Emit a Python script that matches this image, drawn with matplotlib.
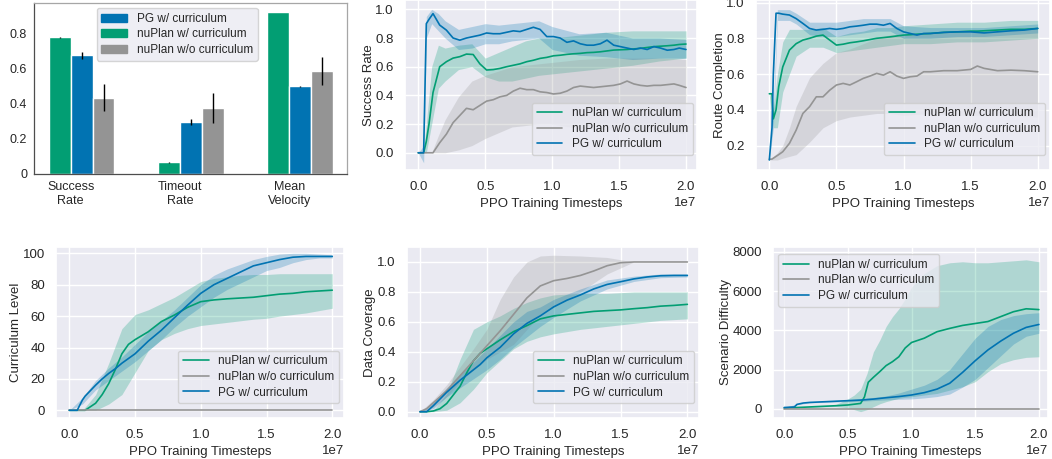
import numpy as np
import matplotlib
matplotlib.use('Agg')
import matplotlib.pyplot as plt
import seaborn as sns
from matplotlib.patches import Patch

# ---------------- data (timesteps in units of 1e7) ----------------
GREEN, BLUE, GRAY = '#029e73', '#0173b2', '#949494'
series_labels = ['nuPlan w/ curriculum', 'nuPlan w/o curriculum', 'PG w/ curriculum']

# bar chart
bar_groups = ['Success\nRate', 'Timeout\nRate', 'Mean\nVelocity']
bar_nuplan_cur = [0.78, 0.066, 0.924]
bar_nuplan_cur_err = [0.002, 0.002, 0.002]
bar_pg_cur = [0.677, 0.296, 0.499]
bar_pg_cur_err = [0.019, 0.019, 0.004]
bar_nuplan_nocur = [0.436, 0.376, 0.586]
bar_nuplan_nocur_err = [0.079, 0.086, 0.081]

# success rate
sr_t = [0, 0.04, 0.06, 0.08, 0.11, 0.16, 0.21, 0.26, 0.31, 0.36, 0.41, 0.46, 0.51, 0.56,
        0.61, 0.66, 0.71, 0.76, 0.81, 0.86, 0.91, 0.96, 1.01, 1.06, 1.11, 1.16, 1.21,
        1.26, 1.31, 1.36, 1.41, 1.46, 1.51, 1.56, 1.61, 1.66, 1.71, 1.76, 1.81, 1.86,
        1.91, 1.95, 2.0]
sr_green = [0, 0, 0.08, 0.2, 0.42, 0.6, 0.635, 0.66, 0.67, 0.688, 0.685, 0.62, 0.577, 0.58,
            0.588, 0.6, 0.61, 0.62, 0.635, 0.645, 0.658, 0.665, 0.676, 0.68, 0.686, 0.69,
            0.693, 0.698, 0.7, 0.704, 0.71, 0.716, 0.718, 0.72, 0.724, 0.728, 0.734, 0.74,
            0.743, 0.746, 0.75, 0.755, 0.758]
sr_gray = [0, 0, 0, 0, 0, 0.07, 0.13, 0.21, 0.26, 0.31, 0.3, 0.33, 0.36, 0.37, 0.39, 0.4,
           0.43, 0.45, 0.44, 0.44, 0.425, 0.42, 0.41, 0.415, 0.43, 0.455, 0.465, 0.46, 0.455,
           0.46, 0.465, 0.47, 0.48, 0.5, 0.48, 0.47, 0.465, 0.47, 0.47, 0.475, 0.48, 0.47, 0.455]
sr_blue = [0, 0, 0.9, 0.93, 0.97, 0.89, 0.855, 0.8, 0.785, 0.8, 0.81, 0.82, 0.835, 0.83,
           0.83, 0.84, 0.85, 0.845, 0.86, 0.875, 0.86, 0.81, 0.81, 0.8, 0.77, 0.78, 0.76,
           0.75, 0.75, 0.76, 0.785, 0.75, 0.74, 0.73, 0.72, 0.73, 0.72, 0.74, 0.73, 0.715,
           0.72, 0.73, 0.72]
sr_bt = [0, 0.04, 0.06, 0.1, 0.15, 0.2, 0.3, 0.4, 0.5, 0.6, 0.7, 0.8, 0.9, 1.0, 1.2, 1.4,
         1.6, 1.8, 2.0]
sr_green_lo = [0, 0, 0, 0.2, 0.45, 0.5, 0.58, 0.6, 0.53, 0.5, 0.5, 0.52, 0.54, 0.55, 0.57,
               0.59, 0.61, 0.64, 0.66]
sr_green_hi = [0, 0, 0.2, 0.6, 0.75, 0.73, 0.75, 0.76, 0.66, 0.7, 0.74, 0.78, 0.8, 0.8, 0.82,
               0.84, 0.85, 0.85, 0.85]
sr_gray_lo = [0, 0, 0, 0, 0, 0, 0.02, 0.05, 0.1, 0.14, 0.18, 0.19, 0.2, 0.2, 0.17, 0.16,
              0.15, 0.14, 0.14]
sr_gray_hi = [0, 0, 0, 0, 0.12, 0.23, 0.39, 0.5, 0.54, 0.57, 0.6, 0.61, 0.62, 0.63, 0.65,
              0.66, 0.66, 0.66, 0.65]
sr_blue_lo = [0, -0.07, 0.8, 0.9, 0.85, 0.8, 0.72, 0.73, 0.76, 0.76, 0.78, 0.79, 0.8, 0.72,
              0.68, 0.67, 0.65, 0.66, 0.66]
sr_blue_hi = [0, 0.05, 0.95, 1.0, 0.97, 0.92, 0.86, 0.88, 0.9, 0.89, 0.9, 0.91, 0.92, 0.88,
              0.83, 0.84, 0.8, 0.8, 0.79]

# route completion
rc_t = [0, 0.02, 0.03, 0.05, 0.07, 0.1, 0.15, 0.2, 0.25, 0.3, 0.35, 0.4, 0.45, 0.5, 0.55,
        0.6, 0.65, 0.7, 0.75, 0.8, 0.85, 0.9, 0.95, 1.0, 1.05, 1.1, 1.15, 1.2, 1.3, 1.4,
        1.5, 1.55, 1.6, 1.7, 1.8, 1.9, 2.0]
rc_green = [0.49, 0.49, 0.35, 0.4, 0.53, 0.64, 0.734, 0.77, 0.79, 0.8, 0.812, 0.818, 0.79,
            0.762, 0.767, 0.775, 0.78, 0.786, 0.793, 0.8, 0.804, 0.808, 0.813, 0.818, 0.82,
            0.823, 0.825, 0.827, 0.833, 0.836, 0.84, 0.84, 0.842, 0.846, 0.85, 0.85, 0.855]
rc_gray = [0.124, 0.125, 0.13, 0.14, 0.15, 0.166, 0.213, 0.287, 0.38, 0.418, 0.473, 0.473,
           0.51, 0.539, 0.548, 0.539, 0.557, 0.576, 0.589, 0.604, 0.594, 0.613, 0.589, 0.576,
           0.585, 0.589, 0.613, 0.613, 0.619, 0.619, 0.626, 0.645, 0.632, 0.619, 0.622,
           0.619, 0.613]
rc_blue = [0.12, 0.3, 0.6, 0.94, 0.94, 0.935, 0.93, 0.91, 0.883, 0.855, 0.846, 0.85, 0.855,
           0.85, 0.855, 0.864, 0.868, 0.873, 0.879, 0.879, 0.873, 0.883, 0.855, 0.836, 0.827,
           0.818, 0.827, 0.827, 0.833, 0.836, 0.836, 0.833, 0.83, 0.836, 0.842, 0.846, 0.855]
rc_bt = [0, 0.03, 0.06, 0.1, 0.15, 0.2, 0.3, 0.4, 0.5, 0.6, 0.7, 0.8, 0.9, 1.0, 1.2, 1.4,
         1.6, 1.8, 2.0]
rc_green_lo = [0.48, 0.3, 0.3, 0.5, 0.6, 0.7, 0.75, 0.75, 0.72, 0.73, 0.74, 0.75, 0.76,
               0.77, 0.77, 0.78, 0.78, 0.79, 0.8]
rc_green_hi = [0.5, 0.4, 0.6, 0.78, 0.85, 0.85, 0.85, 0.86, 0.81, 0.83, 0.84, 0.86, 0.86,
               0.87, 0.88, 0.89, 0.89, 0.9, 0.9]
rc_gray_lo = [0.12, 0.12, 0.12, 0.13, 0.14, 0.15, 0.22, 0.3, 0.34, 0.36, 0.37, 0.38, 0.38,
              0.37, 0.38, 0.37, 0.37, 0.37, 0.36]
rc_gray_hi = [0.12, 0.14, 0.16, 0.2, 0.3, 0.42, 0.58, 0.66, 0.72, 0.74, 0.77, 0.8, 0.82,
              0.82, 0.83, 0.84, 0.84, 0.85, 0.85]
rc_blue_lo = [0.12, 0.3, 0.9, 0.9, 0.9, 0.88, 0.82, 0.81, 0.81, 0.82, 0.83, 0.84, 0.84,
              0.8, 0.8, 0.81, 0.81, 0.82, 0.83]
rc_blue_hi = [0.12, 0.4, 0.96, 0.96, 0.96, 0.94, 0.89, 0.89, 0.89, 0.9, 0.91, 0.91, 0.91,
              0.87, 0.86, 0.86, 0.86, 0.87, 0.88]

# curriculum level
cl_t = [0, 0.06, 0.1, 0.12, 0.2, 0.25, 0.3, 0.35, 0.4, 0.45, 0.5, 0.6, 0.7, 0.8, 0.9, 1.0,
        1.1, 1.2, 1.3, 1.4, 1.5, 1.6, 1.7, 1.8, 1.9, 2.0]
cl_green = [0, 0, 0, 0, 4.5, 10, 17, 26, 36, 42, 45, 50, 56.5, 60.7, 65.6, 69.2, 70.3, 71,
            71.5, 72, 73, 74, 74.5, 75.5, 76, 76.5]
cl_gray = [0] * len(cl_t)
cl_blue = [0, 0, 6.6, 9, 16, 20, 23.5, 26.5, 30, 33, 36, 44, 51, 59, 67, 74.5, 80, 84, 88,
           92, 94, 96, 97.5, 98, 98, 98]
cl_bt = [0, 0.1, 0.2, 0.3, 0.4, 0.5, 0.6, 0.7, 0.8, 0.9, 1.0, 1.1, 1.2, 1.3, 1.4, 1.5, 1.6,
         1.7, 1.8, 1.9, 2.0]
cl_green_lo = [0, 0, 0, 4, 10, 24, 38, 45, 49, 52, 54, 55, 56, 57, 58, 58.6, 60, 61, 62,
               63.5, 65]
cl_green_hi = [0, 0, 10, 30, 52, 61, 64, 68, 72, 77, 82, 84, 85, 86, 86.5, 86.5, 87, 87, 87,
               87, 87]
cl_gray_lo = [0] * len(cl_bt)
cl_gray_hi = [0] * len(cl_bt)
cl_blue_lo = [0, 4, 13, 19, 25, 31, 38, 45, 53, 60, 66, 72, 77, 81, 85, 89, 91, 94, 96, 97, 97]
cl_blue_hi = [0, 8, 19, 27, 34, 42, 50, 57, 64, 72, 80, 86, 90, 93, 96, 98, 99.5, 100, 100,
              99.5, 99]

# data coverage
dc_t = [0, 0.05, 0.1, 0.15, 0.2, 0.3, 0.35, 0.4, 0.45, 0.5, 0.6, 0.7, 0.8, 0.9, 1.0, 1.1,
        1.2, 1.3, 1.4, 1.5, 1.6, 1.7, 1.8, 1.9, 2.0]
dc_green = [0, 0, 0.005, 0.02, 0.055, 0.17, 0.26, 0.34, 0.39, 0.42, 0.48, 0.535, 0.575,
            0.62, 0.64, 0.65, 0.66, 0.67, 0.675, 0.68, 0.688, 0.695, 0.705, 0.71, 0.717]
dc_gray = [0, 0.02, 0.06, 0.1, 0.14, 0.24, 0.29, 0.34, 0.39, 0.44, 0.54, 0.65, 0.76, 0.84,
           0.875, 0.89, 0.91, 0.94, 0.975, 0.995, 1.0, 1.0, 1.0, 1.0, 1.0]
dc_blue = [0, 0, 0.04, 0.085, 0.13, 0.21, 0.245, 0.28, 0.315, 0.36, 0.43, 0.52, 0.59, 0.64,
           0.7, 0.745, 0.78, 0.82, 0.85, 0.868, 0.887, 0.9, 0.908, 0.91, 0.91]
dc_bt = [0, 0.1, 0.2, 0.3, 0.4, 0.5, 0.6, 0.7, 0.8, 0.9, 1.0, 1.2, 1.4, 1.6, 1.8, 2.0]
dc_green_lo = [0, 0, 0.01, 0.06, 0.15, 0.26, 0.34, 0.42, 0.47, 0.5, 0.52, 0.55, 0.57, 0.59,
               0.61, 0.62]
dc_green_hi = [0, 0.01, 0.12, 0.35, 0.55, 0.6, 0.64, 0.69, 0.73, 0.76, 0.78, 0.79, 0.79,
               0.8, 0.8, 0.8]
dc_gray_lo = [0, 0.03, 0.1, 0.2, 0.28, 0.35, 0.4, 0.45, 0.55, 0.65, 0.7, 0.8, 0.92, 1.0,
              1.0, 1.0]
dc_gray_hi = [0, 0.08, 0.18, 0.3, 0.42, 0.55, 0.75, 0.9, 1.0, 1.04, 1.045, 1.04, 1.03, 1.0,
              1.0, 1.0]
dc_blue_lo = [0, 0.02, 0.1, 0.16, 0.22, 0.28, 0.35, 0.43, 0.5, 0.57, 0.63, 0.74, 0.82, 0.87,
              0.895, 0.9]
dc_blue_hi = [0, 0.06, 0.16, 0.25, 0.33, 0.42, 0.51, 0.6, 0.67, 0.7, 0.75, 0.82, 0.88, 0.905,
              0.92, 0.92]

# scenario difficulty
sd_t = [0, 0.08, 0.1, 0.15, 0.2, 0.3, 0.4, 0.5, 0.6, 0.63, 0.66, 0.7, 0.75, 0.8, 0.85, 0.9,
        0.95, 1.0, 1.1, 1.2, 1.3, 1.4, 1.5, 1.6, 1.7, 1.8, 1.9, 2.0]
sd_green = [40, 55, 60, 75, 90, 120, 150, 190, 270, 600, 1350, 1600, 1890, 2200, 2400, 2650,
            3100, 3380, 3600, 3930, 4100, 4250, 4350, 4450, 4700, 4950, 5100, 5060]
sd_gray = [0] * len(sd_t)
sd_blue = [60, 90, 220, 290, 320, 350, 380, 410, 440, 455, 470, 490, 525, 560, 590, 620, 660,
           700, 820, 1000, 1300, 1850, 2450, 3000, 3450, 3850, 4150, 4300]
sd_gt = [0, 0.2, 0.4, 0.5, 0.55, 0.6, 0.65, 0.7, 0.75, 0.8, 0.85, 0.9, 0.95, 1.0, 1.1, 1.2,
         1.3, 1.4, 1.5, 1.6, 1.7, 1.8, 1.9, 2.0]
sd_green_lo = [30, 70, 110, 50, -50, -150, -50, 100, 250, 360, 450, 530, 580, 610, 700, 780,
               950, 1120, 1380, 1890, 2300, 2500, 2620, 2650]
sd_green_hi = [50, 110, 200, 500, 700, 1000, 1800, 2900, 3500, 4200, 4700, 5100, 5600, 6200,
               6900, 7300, 7450, 7500, 7450, 7450, 7500, 7550, 7600, 7500]
sd_bt = [0, 0.1, 0.2, 0.4, 0.6, 0.8, 0.9, 1.0, 1.1, 1.2, 1.3, 1.4, 1.5, 1.6, 1.7, 1.8, 1.9,
         2.0]
sd_blue_lo = [60, 200, 300, 340, 380, 450, 480, 500, 550, 620, 750, 1100, 1500, 2100, 2700,
              3300, 3700, 3850]
sd_blue_hi = [60, 240, 350, 420, 500, 650, 800, 1000, 1200, 1500, 2000, 2800, 3600, 4200,
              4550, 4750, 4850, 4900]
sd_gray_lo = [0] * len(sd_bt)
sd_gray_hi = [0] * len(sd_bt)

# ---------------- style ----------------
sns.set_theme(style='darkgrid')
plt.rcParams['font.family'] = ['Liberation Sans', 'DejaVu Sans']
plt.rcParams['xtick.labelsize'] = 9.5
plt.rcParams['ytick.labelsize'] = 9.5
plt.rcParams['axes.labelsize'] = 9.5
plt.rcParams['legend.fontsize'] = 8.5
plt.rcParams['legend.handlelength'] = 2.2

W, H = 1052, 459
fig = plt.figure(figsize=(W / 100, H / 100), dpi=100)


def add_ax(left, top, right, bottom):
    return fig.add_axes([left / W, 1 - bottom / H, (right - left) / W, (bottom - top) / H])


def scale(a):
    return np.asarray(a, dtype=float) * 1e7


def line_panel(ax, curves, ylabel, xlim, ylim, leg_kw):
    for (tm, m, tb, lo, hi, color), lab in zip(curves, series_labels):
        ax.fill_between(scale(tb), lo, hi, color=color, alpha=0.25, lw=0)
        ax.plot(scale(tm), m, color=color, lw=1.2, label=lab)
    ax.set_xlim(xlim[0] * 1e7, xlim[1] * 1e7)
    ax.set_ylim(*ylim)
    ax.set_xticks(scale([0, 0.5, 1.0, 1.5, 2.0]))
    ax.set_xlabel('PPO Training Timesteps', labelpad=3.5)
    ax.set_ylabel(ylabel, labelpad=0.5)
    ax.tick_params(axis='x', length=0, pad=8)
    ax.tick_params(axis='y', length=0, pad=8)
    ax.legend(borderaxespad=0, labelspacing=0.3, **leg_kw)


# ---------------- bar chart ----------------
ax = add_ax(34, 3, 347, 174)
ax.set_facecolor('white')
ax.grid(False)
x = np.arange(len(bar_groups))
w = 0.2
ax.bar(x - w / 2, bar_nuplan_cur, w, yerr=bar_nuplan_cur_err, color=GREEN,
       error_kw=dict(lw=1.0, ecolor='black'))
ax.bar(x + w / 2, bar_pg_cur, w, yerr=bar_pg_cur_err, color=BLUE,
       error_kw=dict(lw=1.0, ecolor='black'))
ax.bar(x + 3 * w / 2, bar_nuplan_nocur, w, yerr=bar_nuplan_nocur_err, color=GRAY,
       error_kw=dict(lw=1.0, ecolor='black'))
ax.set_xlim(-0.336, 2.528)
ax.set_ylim(0, 0.975)
ax.set_xticks(x)
ax.set_xticklabels(bar_groups, fontsize=9)
ax.set_yticks([0, 0.2, 0.4, 0.6, 0.8])
ax.set_yticklabels(['0', '0.2', '0.4', '0.6', '0.8'], fontsize=9)
ax.tick_params(length=3, width=0.8, color='0.3', pad=2)
for side in ['left', 'bottom']:
    ax.spines[side].set_color('0.3')
for side in ['top', 'right']:
    ax.spines[side].set_color('0.65')
for s in ax.spines.values():
    s.set_linewidth(0.9)
handles = [Patch(color=BLUE), Patch(color=GREEN), Patch(color=GRAY)]
ax.legend(handles, ['PG w/ curriculum', 'nuPlan w/ curriculum', 'nuPlan w/o curriculum'],
          loc='upper left', bbox_to_anchor=(0.2, 0.97), borderaxespad=0,
          labelspacing=0.3, edgecolor='0.8')

# ---------------- line panels ----------------
ax = add_ax(404.9, 0, 696.7, 170)
line_panel(ax, [(sr_t, sr_green, sr_bt, sr_green_lo, sr_green_hi, GREEN),
                (sr_t, sr_gray, sr_bt, sr_gray_lo, sr_gray_hi, GRAY),
                (sr_t, sr_blue, sr_bt, sr_blue_lo, sr_blue_hi, BLUE)],
           'Success Rate', (-0.1, 2.08), (-0.12, 1.065),
           dict(loc='lower right', bbox_to_anchor=(0.987, 0.088)))

ax = add_ax(755.9, 0, 1049.8, 170)
line_panel(ax, [(rc_t, rc_green, rc_bt, rc_green_lo, rc_green_hi, GREEN),
                (rc_t, rc_gray, rc_bt, rc_gray_lo, rc_gray_hi, GRAY),
                (rc_t, rc_blue, rc_bt, rc_blue_lo, rc_blue_hi, BLUE)],
           'Route Completion', (-0.1, 2.09), (0.064, 1.014),
           dict(loc='lower right', bbox_to_anchor=(0.984, 0.088)))
ax.set_yticks([0.2, 0.4, 0.6, 0.8, 1.0])

ax = add_ax(56.15, 246.7, 344.1, 418)
line_panel(ax, [(cl_t, cl_green, cl_bt, cl_green_lo, cl_green_hi, GREEN),
                (cl_t, cl_gray, cl_bt, cl_gray_lo, cl_gray_hi, GRAY),
                (cl_t, cl_blue, cl_bt, cl_blue_lo, cl_blue_hi, BLUE)],
           'Curriculum Level', (-0.1, 2.09), (-4.9, 104.2),
           dict(loc='lower right', bbox_to_anchor=(0.983, 0.086)))

ax = add_ax(406.6, 246.7, 699.4, 418)
line_panel(ax, [(dc_t, dc_green, dc_bt, dc_green_lo, dc_green_hi, GREEN),
                (dc_t, dc_gray, dc_bt, dc_gray_lo, dc_gray_hi, GRAY),
                (dc_t, dc_blue, dc_bt, dc_blue_lo, dc_blue_hi, BLUE)],
           'Data Coverage', (-0.1, 2.09), (-0.042, 1.102),
           dict(loc='lower right', bbox_to_anchor=(0.9815, 0.086)))

ax = add_ax(773.3, 246.7, 1047.8, 418)
line_panel(ax, [(sd_t, sd_green, sd_gt, sd_green_lo, sd_green_hi, GREEN),
                (sd_t, sd_gray, sd_bt, sd_gray_lo, sd_gray_hi, GRAY),
                (sd_t, sd_blue, sd_bt, sd_blue_lo, sd_blue_hi, BLUE)],
           'Scenario Difficulty', (-0.086, 2.07), (-475, 8270),
           dict(loc='upper left', bbox_to_anchor=(0.018, 0.957)))
ax.set_yticks([0, 2000, 4000, 6000, 8000])

fig.savefig('out.png', dpi=100)
